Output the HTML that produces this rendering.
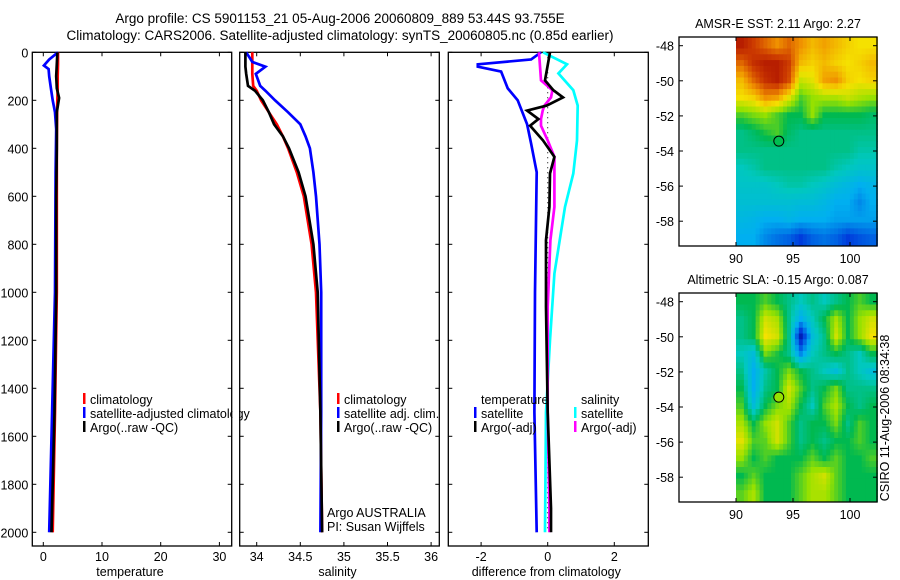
<!DOCTYPE html>
<html><head><meta charset="utf-8"><style>
body{margin:0;background:#fff;}
svg{display:block;font-family:"Liberation Sans",sans-serif;}
text{font-size:12.5px;fill:#000;}
</style></head><body>
<svg id="c" width="900" height="580" xmlns="http://www.w3.org/2000/svg">
<text x="340" y="23" text-anchor="middle" style="font-size:13.5px">Argo profile: CS 5901153_21 05-Aug-2006 20060809_889 53.44S 93.755E</text>
<text x="340" y="40" text-anchor="middle" style="font-size:13.5px">Climatology: CARS2006. Satellite-adjusted climatology: synTS_20060805.nc (0.85d earlier)</text>
<text transform="translate(889,418) rotate(-90)" text-anchor="middle">CSIRO 11-Aug-2006 08:34:38</text>
</svg>
<script>
// ---- data ----
const tDepth=[0,50,100,150,190,250,400,600,1000,1500,2000];
const tClim=[2.5,2.5,2.45,2.45,2.4,2.35,2.3,2.3,2.3,2.0,1.6];
const tSatDepth=[0,30,55,70,100,150,200,250,320,500,1000,1500,2000];
const tSat=[2.5,1.0,0.1,0.9,1.0,1.3,1.6,2.0,2.2,2.1,2.0,1.5,1.0];
const tArgo=[2.4,2.3,2.2,2.3,2.7,2.3,2.3,2.2,2.2,1.9,1.4];
const sDepth=[0,40,60,90,140,160,200,250,300,350,400,500,600,800,1000,1500,2000];
const sClim=[33.95,33.95,33.95,33.95,33.96,34.0,34.05,34.14,34.23,34.3,34.36,34.46,34.54,34.63,34.68,34.73,34.75];
const sSat=[33.88,33.95,34.1,33.99,34.04,34.1,34.21,34.36,34.5,34.56,34.61,34.65,34.68,34.72,34.74,34.74,34.73];
const sArgo=[33.87,33.87,33.87,33.88,33.9,33.98,34.07,34.14,34.2,34.3,34.37,34.48,34.56,34.65,34.7,34.73,34.75];
const dTSatDepth=[0,30,50,60,80,150,200,300,380,500,1000,1500,2000];
const dTSat=[-0.2,-0.5,-2.1,-2.1,-1.4,-1.2,-0.9,-0.62,-0.5,-0.33,-0.38,-0.4,-0.33];
const dArgoDepth=[0,117,158,188,222,243,278,306,367,436,505,644,783,1060,1500,1900,2000];
const dTArgo=[0.07,-0.08,0.17,0.46,-0.03,-0.62,-0.28,-0.53,-0.14,0.2,0.07,0.05,-0.05,-0.05,0.0,0.1,0.1];
const dSArgo=[-0.26,-0.2,0.14,0.1,-0.1,-0.15,-0.2,-0.2,0.0,0.2,0.2,0.2,0.08,0.0,0.0,0.05,0.05];
const dSSatDepth=[0,50,88,158,222,367,505,644,922,1200,1500,2000];
const dSSat=[-0.14,0.58,0.32,0.77,0.9,0.88,0.77,0.52,0.2,0.07,-0.05,-0.08];
const depthTicks=[0,200,400,600,800,1000,1200,1400,1600,1800,2000];
const tempTicks=[0,10,20,30];
const salTicks=[34,34.5,35,35.5,36];
const diffTicks=[-2,0,2];
const lonTicks=[90,95,100];
const latTicks=[-48,-50,-52,-54,-56,-58];
const sstGrid=[
[0.95,0.9,0.85,0.8,0.85,0.8,0.75,0.78,0.75,0.72,0.7,0.7],
[0.85,0.92,0.95,0.95,0.9,0.75,0.72,0.75,0.72,0.7,0.72,0.75],
[0.75,0.85,0.92,0.95,0.88,0.65,0.68,0.78,0.8,0.72,0.7,0.72],
[0.7,0.72,0.8,0.78,0.68,0.55,0.6,0.62,0.62,0.65,0.62,0.6],
[0.55,0.58,0.6,0.55,0.5,0.5,0.6,0.5,0.5,0.5,0.5,0.48],
[0.45,0.48,0.52,0.55,0.48,0.45,0.45,0.45,0.45,0.45,0.45,0.45],
[0.45,0.45,0.45,0.45,0.45,0.45,0.45,0.45,0.45,0.45,0.42,0.42],
[0.4,0.42,0.45,0.45,0.45,0.45,0.45,0.45,0.42,0.4,0.38,0.38],
[0.38,0.38,0.38,0.4,0.42,0.42,0.4,0.38,0.35,0.33,0.3,0.32],
[0.36,0.36,0.36,0.36,0.36,0.35,0.35,0.33,0.3,0.3,0.25,0.3],
[0.33,0.32,0.3,0.3,0.32,0.3,0.3,0.3,0.28,0.28,0.28,0.28],
[0.3,0.3,0.25,0.22,0.2,0.15,0.2,0.22,0.2,0.15,0.18,0.2]];
const slaGrid=[
[.5,.5,.55,.5,.45,.4,.45,.4,.45,.5,.55,.5],
[.45,.5,.66,.62,.45,.3,.4,.5,.62,.5,.6,.66],
[.45,.5,.7,.66,.45,.08,.35,.45,.66,.5,.6,.7],
[.4,.35,.58,.52,.45,.25,.4,.45,.5,.45,.4,.5],
[.45,.3,.42,.5,.58,.5,.45,.4,.35,.45,.4,.35],
[.5,.3,.45,.5,.66,.55,.45,.5,.58,.45,.45,.45],
[.55,.35,.5,.58,.62,.5,.4,.55,.62,.5,.45,.5],
[.62,.5,.6,.66,.55,.45,.5,.5,.58,.45,.55,.5],
[.68,.55,.56,.66,.55,.45,.5,.45,.5,.5,.55,.5],
[.6,.5,.55,.5,.5,.5,.56,.5,.56,.5,.5,.55],
[.5,.56,.5,.5,.5,.56,.62,.66,.56,.5,.5,.5],
[.56,.62,.5,.5,.5,.56,.62,.62,.56,.5,.5,.5]];
const floatLon=93.755, floatLat=-53.44;

// ---- helpers ----
const svg=document.getElementById('c');const NS='http://www.w3.org/2000/svg';
function mk(tag,attrs,parent){const e=document.createElementNS(NS,tag);for(const k in attrs)e.setAttribute(k,attrs[k]);(parent||svg).appendChild(e);return e;}
const Y=z=>52.3+0.24*z;
const PB=546;
function xT(v){return 43.3+5.87*v;}
function xS(v){return 256.7+87.2*(v-34);}
function xD(v){return 547.7+33.3*v;}
function line(xs,ds,fx,color,name){
  const p=mk('polyline',{points:xs.map((v,i)=>fx(v).toFixed(1)+','+Y(ds[i]).toFixed(1)).join(' '),fill:'none',stroke:color,'stroke-width':2.7,'stroke-linejoin':'miter'});
  
  
}
function panel(x0,x1,name,ticks,fx,fmt,xlabel,showDepth){
  const g=mk('g',{});
  
  
  const r=mk('rect',{x:x0,y:52.3,width:x1-x0,height:PB-52.3,fill:'none',stroke:'#000','stroke-width':1.3},g);
  
  
  depthTicks.forEach(d=>{
    mk('line',{x1:x0,x2:x0+4,y1:Y(d),y2:Y(d),stroke:'#000'},g);
    mk('line',{x1:x1,x2:x1-4,y1:Y(d),y2:Y(d),stroke:'#000'},g);
    if(showDepth){const t=mk('text',{x:x0-4,y:Y(d)+5,'text-anchor':'end'},g);t.textContent=d;
      
      }
  });
  ticks.forEach(v=>{const x=fx(v);
    mk('line',{x1:x,x2:x,y1:52.3,y2:56.3,stroke:'#000'},g);
    mk('line',{x1:x,x2:x,y1:PB,y2:PB-4,stroke:'#000'},g);
    const t=mk('text',{x:x,y:PB+15,'text-anchor':'middle'},g);t.textContent=fmt(v);
    
    
  });
  const l=mk('text',{x:(x0+x1)/2-2,y:PB+30,'text-anchor':'middle'},g);l.textContent=xlabel;
  
  
}
function legend(x,y,color,label){
  const b=mk('rect',{x:x,y:y-11,width:2.5,height:11,fill:color});
  
  
  const t=mk('text',{x:x+7,y:y});t.textContent=label;
  
  
}
function txt(x,y,s,name){const t=mk('text',{x:x,y:y});t.textContent=s;
  
  }

panel(32.3,231.7,'temperature-panel',tempTicks,xT,v=>v,'temperature',true);
panel(239.7,439.3,'salinity-panel',salTicks,xS,v=>v,'salinity',false);
panel(448.3,648.3,'difference-panel',diffTicks,xD,v=>v,'difference from climatology',false);

line(tClim,tDepth,xT,'#f00','temp-climatology-line');
line(tSat,tSatDepth,xT,'#00f','temp-satellite-line');
line(tArgo,tDepth,xT,'#000','temp-argo-line');
line(sClim,sDepth,xS,'#f00','sal-climatology-line');
line(sSat,sDepth,xS,'#00f','sal-satellite-line');
line(sArgo,sDepth,xS,'#000','sal-argo-line');
const zl=mk('line',{x1:xD(0),x2:xD(0),y1:Y(0),y2:Y(2000),stroke:'#000','stroke-dasharray':'1,4'});


line(dSSat,dSSatDepth,xD,'#0ff','diff-sal-satellite-line');
line(dTSat,dTSatDepth,xD,'#00f','diff-temp-satellite-line');
line(dSArgo,dArgoDepth,xD,'#f0f','diff-sal-argo-line');
line(dTArgo,dArgoDepth,xD,'#000','diff-temp-argo-line');

legend(83,404,'#f00','climatology');
legend(83,418,'#00f','satellite-adjusted climatology');
legend(83,432,'#000','Argo(..raw -QC)');
legend(337,404,'#f00','climatology');
legend(337,418,'#00f','satellite adj. clim.');
legend(337,432,'#000','Argo(..raw -QC)');
txt(481,404,'temperature','legend-heading-temperature');
txt(581,404,'salinity','legend-heading-salinity');
legend(474,418,'#00f','satellite');
legend(474,432,'#000','Argo(-adj)');
legend(574,418,'#0ff','satellite');
legend(574,432,'#f0f','Argo(-adj)');
txt(327,517,'Argo AUSTRALIA','argo-australia-label');
txt(327,531,'PI: Susan Wijffels','pi-label');
const cover=mk('rect',{x:232.5,y:405,width:6.5,height:16,fill:'#fff'});



// ---- maps ----
const stops=[[0,0,0,140],[0.15,0,60,220],[0.3,0,175,240],[0.4,0,200,190],[0.5,0,185,80],[0.6,150,225,0],[0.7,245,225,0],[0.8,240,145,0],[0.9,205,60,0],[1,160,0,0]];
function cmap(v){for(let i=1;i<stops.length;i++){if(v<=stops[i][0]){const a=stops[i-1],b=stops[i],f=(v-a[0])/(b[0]-a[0]);
  return `rgb(${Math.round(a[1]+f*(b[1]-a[1]))},${Math.round(a[2]+f*(b[2]-a[2]))},${Math.round(a[3]+f*(b[3]-a[3]))})`;}}return 'rgb(160,0,0)';}
function sample(grid,fi,fj){
  const nr=grid.length,nc=grid[0].length;
  const i0=Math.max(0,Math.min(nr-1,Math.floor(fi))),j0=Math.max(0,Math.min(nc-1,Math.floor(fj)));
  const i1=Math.min(nr-1,i0+1),j1=Math.min(nc-1,j0+1);
  const a=Math.max(0,Math.min(1,fi-i0)),b=Math.max(0,Math.min(1,fj-j0));
  return grid[i0][j0]*(1-a)*(1-b)+grid[i0][j1]*(1-a)*b+grid[i1][j0]*a*(1-b)+grid[i1][j1]*a*b;
}
function map(top,title,grid,name,dotColor){
  const X0=679,X1=877,B=top+209;
  const lx=lon=>736+11.4*(lon-90);
  const ly=lat=>top+8.7+17.55*(-48-lat);
  const g=mk('g',{});
  
  
  const nr=grid.length,nc=grid[0].length,S=3;
  const lonA=90,lonB=102.4,latA=-47.5,latB=-59.4;
  for(let i=0;i<nr*S;i++)for(let j=0;j<nc*S;j++){
    const v=sample(grid,(i+0.5)/S-0.5,(j+0.5)/S-0.5);
    const xa=lx(lonA+(lonB-lonA)*j/(nc*S)),xb=lx(lonA+(lonB-lonA)*(j+1)/(nc*S));
    const ya=ly(latA+(latB-latA)*i/(nr*S)),yb=ly(latA+(latB-latA)*(i+1)/(nr*S));
    const c=mk('rect',{x:xa.toFixed(1),y:ya.toFixed(1),width:(xb-xa+0.6).toFixed(1),height:(yb-ya+0.6).toFixed(1),fill:cmap(v)},g);
    
    
  }
  const fr=mk('rect',{x:X0,y:top,width:X1-X0,height:209,fill:'none',stroke:'#000','stroke-width':1.3},g);
  
  
  lonTicks.forEach(l=>{const x=lx(l);
    mk('line',{x1:x,x2:x,y1:top,y2:top+4,stroke:'#000'},g);
    mk('line',{x1:x,x2:x,y1:B,y2:B-4,stroke:'#000'},g);
    const t=mk('text',{x:x,y:B+17,'text-anchor':'middle'},g);t.textContent=l;
    
    });
  latTicks.forEach(l=>{const y=ly(l);
    mk('line',{x1:X0,x2:X0+4,y1:y,y2:y,stroke:'#000'},g);
    mk('line',{x1:X1,x2:X1-4,y1:y,y2:y,stroke:'#000'},g);
    const t=mk('text',{x:X0-5,y:y+5,'text-anchor':'end'},g);t.textContent=l;
    
    });
  const dot=mk('circle',{cx:lx(floatLon),cy:ly(floatLat),r:5,fill:dotColor,stroke:'#000','stroke-width':1},g);
  
  
  const t=mk('text',{x:778,y:top-9,'text-anchor':'middle'},g);t.textContent=title;
  
  
}
map(37,'AMSR-E SST: 2.11 Argo: 2.27',sstGrid,'sst-map','rgb(0,190,80)');
map(293,'Altimetric SLA: -0.15 Argo: 0.087',slaGrid,'sla-map','rgb(150,225,0)');
</script>
</body></html>
